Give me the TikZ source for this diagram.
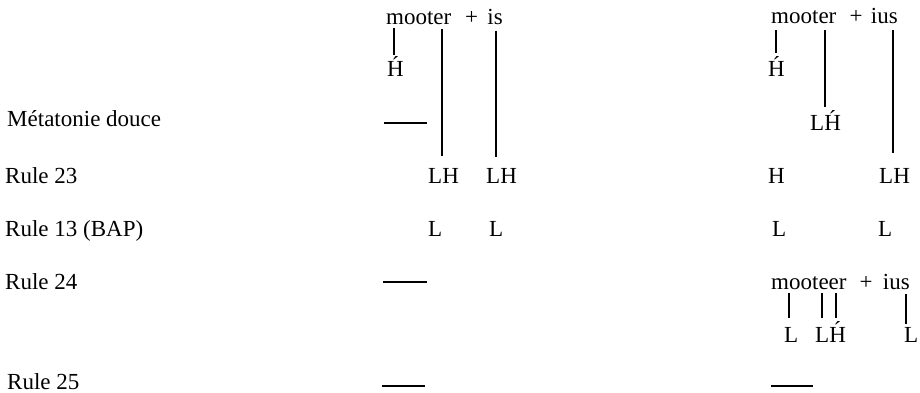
\documentclass[tikz,border=0pt]{standalone}
\usepackage{fontspec}
\setmainfont{Liberation Serif}
\newcommand\Hac{\accent"00B4 H}
\begin{document}
\begin{tikzpicture}[x=1pt,y=-1pt,
  txt/.style={inner sep=0pt,anchor=base west,font=\fontsize{23}{27}\selectfont},
  txtc/.style={txt,anchor=base},
  txte/.style={txt,anchor=base east},
  assoc/.style={line width=1.1pt},
  blank/.style={line width=1.1pt}]
\useasboundingbox (0,0) rectangle (920,393);
% left labels
\node[txt] (lmet) at (7,126) {Métatonie douce};
\node[txt] (l23) at (5,183) {Rule 23};
\node[txt] (l13) at (5,236) {Rule 13 (BAP)};
\node[txt] (l24) at (5,289) {Rule 24};
\node[txt] (l25) at (7,389) {Rule 25};
% middle column
\node[txt] (mw) at (386,25) {mooter};
\node[txtc] (mplus) at (471.5,25) {+};
\node[txte] (mis) at (503,25) {is};
\node[txt] (mH) at (387,77) {\Hac};
\node[txt] (mLHa) at (428,183) {LH};
\node[txt] (mLHb) at (486,183) {LH};
\node[txt] (mLa) at (428,236) {L};
\node[txt] (mLb) at (489,236) {L};
\coordinate (ma1) at (394,28); \coordinate (ma2) at (394,55);
\coordinate (mb1) at (442,29); \coordinate (mb2) at (442,156);
\coordinate (mc1) at (496,31); \coordinate (mc2) at (496,157);
\draw[assoc] (ma1) -- (ma2);
\draw[assoc] (mb1) -- (mb2);
\draw[assoc] (mc1) -- (mc2);
\coordinate (md1) at (384,123); \coordinate (md2) at (427,123);
\coordinate (me1) at (383,282); \coordinate (me2) at (427,282);
\coordinate (mf1) at (382,386); \coordinate (mf2) at (425,386);
\draw[blank] (md1) -- (md2);
\draw[blank] (me1) -- (me2);
\draw[blank] (mf1) -- (mf2);
% right column
\node[txt] (rw) at (771,24) {mooter};
\node[txtc] (rplus) at (856,24) {+};
\node[txte] (rius) at (898,24) {ius};
\node[txt] (rH) at (768,77) {\Hac};
\node[txt] (rLHac) at (810,131) {L\Hac};
\node[txt] (rH3) at (768,183) {H};
\node[txt] (rLH) at (879,183) {LH};
\node[txt] (rLa) at (772,236) {L};
\node[txt] (rLb) at (878,236) {L};
\coordinate (ra1) at (776,30); \coordinate (ra2) at (776,53);
\coordinate (rb1) at (825,30); \coordinate (rb2) at (825,107);
\coordinate (rc1) at (893,30); \coordinate (rc2) at (893,153);
\draw[assoc] (ra1) -- (ra2);
\draw[assoc] (rb1) -- (rb2);
\draw[assoc] (rc1) -- (rc2);
% rule 24 output
\node[txt] (r6w) at (771,289) {mooteer};
\node[txtc] (r6plus) at (866,289) {+};
\node[txte] (r6ius) at (910,289) {ius};
\node[txt] (r6La) at (784,342) {L};
\node[txt] (r6LH) at (815,342) {L\Hac};
\node[txt] (r6Lb) at (904,342) {L};
\coordinate (rd1) at (789,293); \coordinate (rd2) at (789,318);
\coordinate (re1) at (822,293); \coordinate (re2) at (822,318);
\coordinate (rf1) at (836,293); \coordinate (rf2) at (836,318);
\coordinate (rg1) at (906,294); \coordinate (rg2) at (906,324);
\draw[assoc] (rd1) -- (rd2);
\draw[assoc] (re1) -- (re2);
\draw[assoc] (rf1) -- (rf2);
\draw[assoc] (rg1) -- (rg2);
\coordinate (rh1) at (771,386); \coordinate (rh2) at (813,386);
\draw[blank] (rh1) -- (rh2);
\end{tikzpicture}
\end{document}
